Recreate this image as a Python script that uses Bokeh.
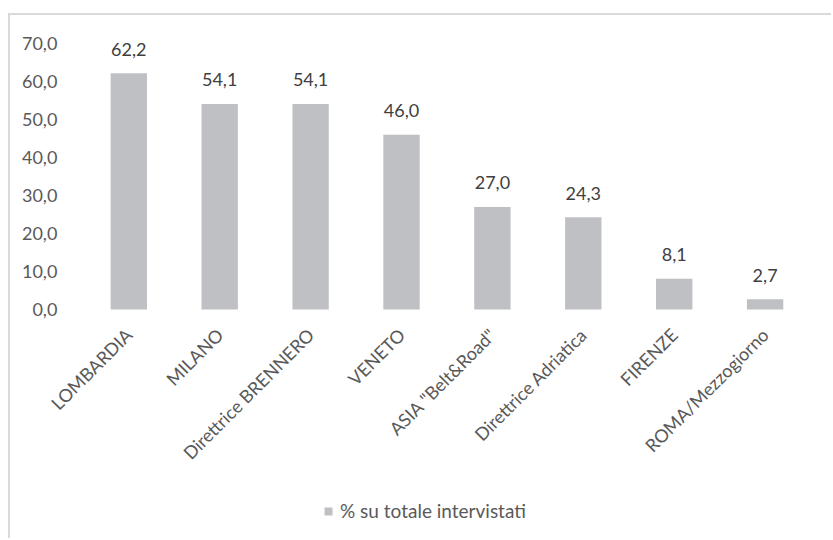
from bokeh.plotting import figure
from bokeh.models import FixedTicker, Legend, LegendItem, ColumnDataSource, Range1d
from bokeh.core.properties import value
from bokeh.embed import file_html
from bokeh.resources import INLINE
import math

categories = ["LOMBARDIA", "MILANO", "Direttrice BRENNERO", "VENETO",
              "ASIA \"Belt&Road\"", "Direttrice Adriatica", "FIRENZE", "ROMA/Mezzogiorno"]
values = [62.2, 54.1, 54.1, 46.0, 27.0, 24.3, 8.1, 2.7]
value_labels = ["62,2", "54,1", "54,1", "46,0", "27,0", "24,3", "8,1", "2,7"]
y_ticks = [0, 10, 20, 30, 40, 50, 60, 70]
y_tick_labels = ["0,0", "10,0", "20,0", "30,0", "40,0", "50,0", "60,0", "70,0"]
series_name = "% su totale intervistati"

FONT = "Lato"
BAR = "#bfc0c4"
FS = "18px"

idx = list(range(len(categories)))
src = ColumnDataSource(dict(x=idx, val=values, lab=value_labels))

p = figure(width=823, height=525, x_range=Range1d(-1.2794, 7.7305),
           y_range=Range1d(-59.47, 74.74), output_backend="svg", toolbar_location=None,
           min_border_left=2, min_border_right=2, min_border_top=10, min_border_bottom=5)
p.margin = (13, 0, 0, 8)
p.styles = {"border-top": "2px solid #d9d9d9", "border-left": "2px solid #d9d9d9"}
p.outline_line_color = None
p.grid.visible = False
p.background_fill_color = "white"

r = p.vbar(x="x", top="val", width=0.4, source=src, fill_color=BAR, line_color=None)
p.text(x="x", y="val", text="lab", source=src, text_align="center", text_baseline="middle",
       y_offset=-24, text_font=value(FONT), text_font_size=FS, text_color="#404040")

p.yaxis.ticker = FixedTicker(ticks=y_ticks)
p.yaxis.major_label_overrides = {t: l for t, l in zip(y_ticks, y_tick_labels)}
p.xaxis.ticker = FixedTicker(ticks=idx)
p.xaxis.major_label_overrides = {i: c for i, c in zip(idx, categories)}
for ax in (p.xaxis[0], p.yaxis[0]):
    ax.axis_line_color = None
    ax.major_tick_line_color = None
    ax.minor_tick_line_color = None
    ax.major_label_text_font = FONT
    ax.major_label_text_font_size = FS
    ax.major_label_text_color = "#595959"
p.yaxis.fixed_location = -0.5
p.yaxis.major_label_standoff = 20
p.xaxis.fixed_location = 0
p.xaxis.major_label_orientation = math.pi / 4
p.xaxis.major_label_standoff = 16

legend = Legend(items=[LegendItem(label=series_name, renderers=[r])], location=(311, 13),
                orientation="horizontal", border_line_color=None, background_fill_alpha=0,
                padding=0, glyph_width=10, glyph_height=10, label_standoff=7,
                label_text_font=FONT, label_text_font_size="19px", label_text_color="#595959")
p.add_layout(legend, "center")

open("out.html", "w").write(file_html(p, INLINE))
